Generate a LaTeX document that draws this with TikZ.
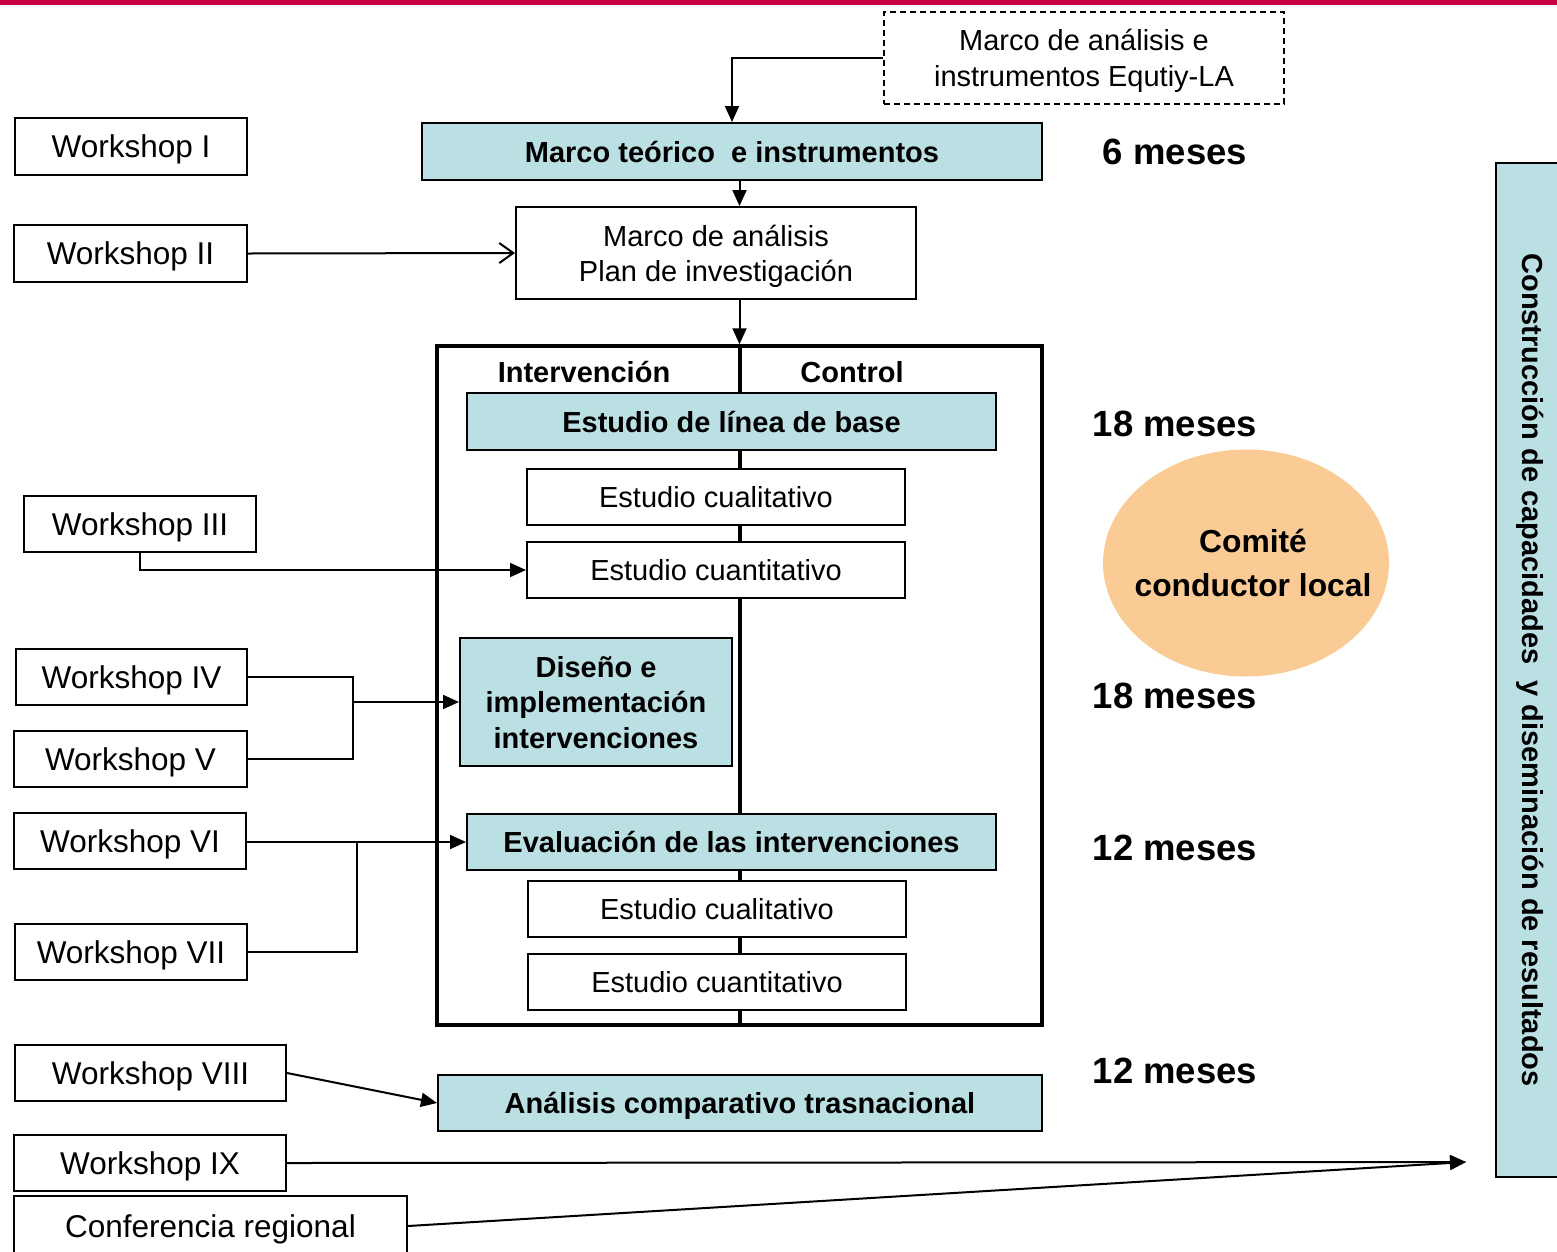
\documentclass[tikz,border=0pt]{standalone}
\usepackage{fontspec}
\setmainfont{Liberation Sans}
\usetikzlibrary{arrows.meta,shapes.geometric}
\definecolor{paleblue}{RGB}{187,224,227}
\definecolor{peach}{RGB}{251,203,150}
\definecolor{crimson}{RGB}{200,0,65}
\begin{document}
\begin{tikzpicture}[x=1pt,y=-1pt,
  box/.style={draw, line width=2pt, inner sep=0pt, align=center, fill=white,
    text depth=0pt, font=\fontsize{29}{35}\selectfont},
  wbox/.style={box, font=\fontsize{31.5}{36}\selectfont},
  bbox/.style={box, fill=paleblue, font=\bfseries\fontsize{29}{35.5}\selectfont},
  months/.style={font=\bfseries\fontsize{36.5}{40}\selectfont},
  colhead/.style={font=\bfseries\fontsize{29}{35}\selectfont},
  conn/.style={line width=2pt},
  tri/.style={-{Triangle[length=16pt,width=14pt]}},
  barb/.style={-{Straight Barb[length=14pt,width=20pt,line width=2pt]}}]
\useasboundingbox (0,0) rectangle (1557,1251);
\clip (0,0) rectangle (1557,1251);

% top rule
\fill[crimson] (0,0) rectangle (1557,5);

% central frame with intervention / control split
\node[draw, line width=3.5pt, minimum width=605pt, minimum height=679pt, inner sep=0pt]
  (frame) at (739.5,685.5) {};
\draw[line width=4pt] (frame.north) -- (frame.south);
\node[colhead] (interv) at (584,372) {Intervención};
\node[colhead] (control) at (852,372) {Control};

% main flow
\node[box, dash pattern=on 6pt off 4pt, minimum width=400pt, minimum height=92pt,
  font=\fontsize{29}{36}\selectfont] (equity) at (1084,58)
  {Marco de análisis e\\instrumentos Equtiy-LA};
\node[bbox, minimum width=620pt, minimum height=57pt] (teo) at (732,151.5)
  {Marco teórico~ e instrumentos};
\node[box, minimum width=400pt, minimum height=92pt] (manal) at (716,253)
  {Marco de análisis\\Plan de investigación};
\node[bbox, minimum width=529pt, minimum height=57pt] (base) at (731.5,421.5)
  {Estudio de línea de base};
\node[box, minimum width=378pt, minimum height=56pt] (cual1) at (716,497)
  {Estudio cualitativo};
\node[box, minimum width=378pt, minimum height=56pt] (cuan1) at (716,570)
  {Estudio cuantitativo};
\node[bbox, minimum width=272pt, minimum height=128pt] (diseno) at (596,702)
  {Diseño e\\implementación\\intervenciones};
\node[bbox, minimum width=529pt, minimum height=56pt] (eval) at (731.5,842)
  {Evaluación de las intervenciones};
\node[box, minimum width=378pt, minimum height=56pt] (cual2) at (717,909)
  {Estudio cualitativo};
\node[box, minimum width=378pt, minimum height=56pt] (cuan2) at (717,982)
  {Estudio cuantitativo};
\node[bbox, minimum width=604pt, minimum height=56pt] (comp) at (740,1103)
  {Análisis comparativo trasnacional};

% flow arrows
\draw[conn,tri] (equity.west) -| (teo.north);
\draw[conn,tri] (teo.south -| frame.north) -- (manal.north -| frame.north);
\draw[conn,tri] (manal.south -| frame.north) -- (frame.north);

% durations
\node[months] (m1) at (1175,152) {6 meses};
\node[months] (m2) at (1175,424) {18 meses};
\node[months] (m3) at (1175,696) {18 meses};
\node[months] (m4) at (1175,848) {12 meses};
\node[months] (m5) at (1175,1071) {12 meses};

% local steering committee
\node[ellipse, fill=peach, minimum width=286pt, minimum height=227pt, inner sep=0pt]
  (comite) at (1246,563) {};
\node[align=center, font=\bfseries\fontsize{31.8}{44}\selectfont] (comitetxt)
  at ([xshift=7pt]comite.center) {Comité\\conductor local};

% capacity building side bar
\fill[paleblue, draw=black, line width=2pt] (1496,163) rectangle (1575,1177);
\node[rotate=-90, font=\bfseries\fontsize{29}{35}\selectfont] (capac) at (1530,670)
  {Construcción de capacidades~ y diseminación de resultados};
\coordinate (bartip) at (1466,1162);

% workshops
\node[wbox, minimum width=232pt, minimum height=57pt] (w1) at (131,146.5) {Workshop I};
\node[wbox, minimum width=233pt, minimum height=57pt] (w2) at (130.5,253.5) {Workshop II};
\node[wbox, minimum width=232pt, minimum height=56pt] (w3) at (140,524) {Workshop III};
\node[wbox, minimum width=231pt, minimum height=56pt] (w4) at (131.5,677) {Workshop IV};
\node[wbox, minimum width=233pt, minimum height=56pt] (w5) at (130.5,759) {Workshop V};
\node[wbox, minimum width=232pt, minimum height=56pt] (w6) at (130,841) {Workshop VI};
\node[wbox, minimum width=232pt, minimum height=56pt] (w7) at (131,952) {Workshop VII};
\node[wbox, minimum width=271pt, minimum height=56pt] (w8) at (150.5,1073) {Workshop VIII};
\node[wbox, minimum width=272pt, minimum height=56pt] (w9) at (150,1163) {Workshop IX};
\node[wbox, minimum width=393pt, minimum height=60pt] (conf) at (210.5,1226) {Conferencia regional};

% workshop connectors
\coordinate (j45) at (353,702);
\coordinate (j67) at (357,842);
\draw[conn,barb] (w2.east) -- (manal.west);
\draw[conn,tri] (w3.south) |- (cuan1.west);
\draw[conn] (w4.east) -| (j45) |- (w5.east);
\draw[conn,tri] (j45) -- (diseno.west);
\draw[conn,tri] (w6.east |- j67) -- (eval.west);
\draw[conn] (w7.east) -| (j67);
\draw[conn,tri] (w8.east) -- (comp.west);
\draw[conn,tri] (w9.east) -- (bartip);
\draw[conn,tri] (conf.east) -- (bartip);
\end{tikzpicture}
\end{document}
